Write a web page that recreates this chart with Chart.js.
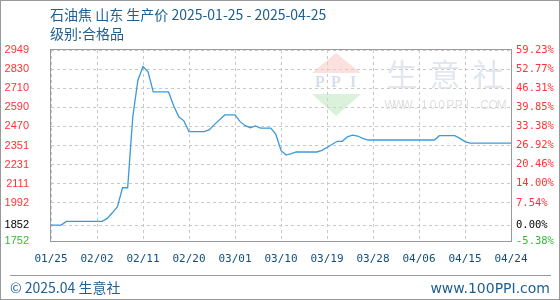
<!DOCTYPE html>
<html>
<head>
<meta charset="utf-8">
<script src="https://cdn.jsdelivr.net/npm/chart.js@4"></script>
<style>
  html, body { margin: 0; padding: 0; background: #fff; }
  #wrap { position: relative; width: 560px; height: 300px; box-sizing: border-box; border: 1px solid #999; overflow: hidden; }
  canvas { position: absolute; left: 0; top: 0; }
  .txt { position: absolute; font-family: "Noto Sans CJK SC", "Noto Sans", sans-serif; color: #1d5f92; white-space: nowrap; line-height: 1; }
</style>
</head>
<body>
<div id="wrap">
  <canvas id="c" width="560" height="300"></canvas>
  <div class="txt" style="left:49px;top:6px;font-size:14px;">石油焦 山东 生产价 2025-01-25 - 2025-04-25</div>
  <div class="txt" style="left:49px;top:25px;font-size:14px;">级别:合格品</div>
  <div style="position:absolute;left:9px;top:274px;width:541px;border-top:1px solid #999;"></div>
  <div class="txt" style="left:9px;top:279px;font-size:14px;">© 2025.04 生意社</div>
  <div class="txt" style="right:9px;top:280px;font-size:14px;font-family:'DejaVu Sans',sans-serif;">www.100PPI.com</div>
</div>
<script>
// price data (yuan/ton)
const dates = ["01-25","01-27","01-28","02-04","02-05","02-06","02-07","02-08","02-09","02-10",
  "02-11","02-12","02-13","02-14","02-17","02-18","02-19","02-20","02-21","02-24",
  "02-25","02-26","02-28","03-02","03-03","03-04","03-05","03-06","03-07","03-09",
  "03-10","03-11","03-12","03-13","03-14","03-18","03-19","03-20","03-22","03-23",
  "03-24","03-25","03-26","03-27","03-28","04-10","04-11","04-14","04-15","04-16",
  "04-17","04-25"];
const prices = [1852,1852,1875,1875,1894,1929,1967,2086,2086,2530,
  2760,2845,2810,2686,2686,2600,2530,2505,2437,2437,
  2450,2483,2542,2542,2500,2475,2462,2473,2460,2460,
  2420,2320,2291,2300,2310,2310,2320,2338,2377,2377,
  2405,2416,2410,2395,2385,2385,2412,2412,2395,2375,
  2365,2365];

// axis labels
const xLabels = ["01/25","02/02","02/11","02/20","03/01","03/10","03/19","03/28","04/06","04/15","04/24"];
const leftLabels = ["2949","2830","2710","2590","2470","2351","2231","2111","1992","1852","1752"];
const pctLabels = ["59.23%","52.77%","46.31%","39.85%","33.38%","26.92%","20.46%","14.00%","7.54%","0.00%","-5.38%"];
const basePrice = 1852;

const startDay = new Date("2025-01-25T00:00:00Z");
function dayOffset(md) {
  const d = new Date("2025-" + md + "T00:00:00Z");
  return Math.round((d - startDay) / 86400000);
}
const points = dates.map((md, i) => ({ x: dayOffset(md), y: prices[i] }));

// tick positions: evenly spread (9 days apart), values from percent labels
const xTickPos = xLabels.map((_, i) => i * 9);
const yTickPos = pctLabels.map(p => basePrice * (1 + parseFloat(p) / 100));
const yMin = yTickPos[yTickPos.length - 1];
const yMax = yTickPos[0];

function tickColor(ctx) {
  const p = parseFloat(pctLabels[ctx.index]);
  if (p > 0) return "#ff3333";
  if (p < 0) return "#33bb33";
  return "#000";
}

const frame = {
  id: "frame",
  beforeDatasetsDraw(chart) {
    const ctx = chart.ctx;
    ctx.save();
    // watermark logo
    ctx.fillStyle = "rgba(245,200,195,0.55)";
    ctx.beginPath(); ctx.moveTo(335, 52); ctx.lineTo(360, 72); ctx.lineTo(311, 72); ctx.closePath(); ctx.fill();
    ctx.fillStyle = "rgba(190,230,190,0.55)";
    ctx.beginPath(); ctx.moveTo(311, 93); ctx.lineTo(360, 93); ctx.lineTo(335, 115); ctx.closePath(); ctx.fill();
    ctx.fillStyle = "rgba(200,208,225,0.7)";
    ctx.font = "bold 16px 'Liberation Serif', serif";
    ctx.textAlign = "center"; ctx.textBaseline = "middle";
    ctx.fillText("P", 319, 82); ctx.fillText("P", 335, 82); ctx.fillText("I", 352, 82);
    ctx.font = "31px 'Noto Sans CJK SC', sans-serif";
    ctx.fillStyle = "rgba(210,216,230,0.65)";
    ["生", "意", "社"].forEach((ch, i) => ctx.fillText(ch, 401 + i * 43, 73));
    ctx.font = "12px 'Liberation Sans', sans-serif";
    ctx.fillStyle = "rgba(215,215,215,0.8)";
    "WWW.100PPI.COM".split("").forEach((ch, i) => ctx.fillText(ch, 389 + i * 8.6, 105));
    ctx.restore();
  },
  afterDraw(chart) {
    const ctx = chart.ctx;
    const a = chart.chartArea;
    ctx.save();
    ctx.strokeStyle = "#999";
    ctx.lineWidth = 1;
    ctx.strokeRect(a.left - 0.5, a.top - 0.5, a.right - a.left + 1, a.bottom - a.top + 1);
    ctx.beginPath(); ctx.moveTo(a.left, a.bottom + 0.5); ctx.lineTo(a.right, a.bottom + 0.5); ctx.stroke();
    ctx.restore();
  }
};

new Chart(document.getElementById("c"), {
  type: "line",
  data: {
    datasets: [{
      data: points,
      borderColor: "#3a9ad9",
      borderWidth: 1.3,
      pointRadius: 0,
      tension: 0,
      fill: false
    }]
  },
  options: {
    responsive: false,
    animation: false,
    layout: { padding: { top: 49, bottom: 0, left: 0, right: 0 } },
    plugins: { legend: { display: false }, tooltip: { enabled: false } },
    scales: {
      x: {
        type: "linear",
        min: 0,
        max: 90,
        afterBuildTicks: s => { s.ticks = xTickPos.map(v => ({ value: v })); },
        afterFit: s => { s.height = 60; },
        grid: { color: "#c8c8c8", drawTicks: false },
        border: { display: false, dash: [3, 3] },
        ticks: {
          padding: 12,
          color: "#0f4f80",
          font: { family: "DejaVu Sans Mono", size: 11 },
          maxRotation: 0,
          autoSkip: false,
          callback: (v, i) => xLabels[i]
        }
      },
      y: {
        position: "left",
        min: yMin,
        max: yMax,
        afterBuildTicks: s => { s.ticks = yTickPos.map(v => ({ value: v })); },
        afterFit: s => { s.width = 50; },
        grid: { color: "#c8c8c8", drawTicks: false },
        border: { display: false, dash: [3, 3] },
        ticks: {
          padding: 22,
          color: tickColor,
          font: { family: "Liberation Sans", size: 11 },
          autoSkip: false,
          callback: (v, i) => leftLabels[i]
        }
      },
      y2: {
        position: "right",
        min: yMin,
        max: yMax,
        afterBuildTicks: s => { s.ticks = yTickPos.map(v => ({ value: v })); },
        afterFit: s => { s.width = 50; },
        grid: { display: false, drawTicks: false },
        border: { display: false },
        ticks: {
          padding: 5,
          color: tickColor,
          font: { family: "DejaVu Sans Mono", size: 10.5 },
          autoSkip: false,
          callback: (v, i) => pctLabels[i]
        }
      }
    }
  },
  plugins: [frame]
});
</script>
</body>
</html>
